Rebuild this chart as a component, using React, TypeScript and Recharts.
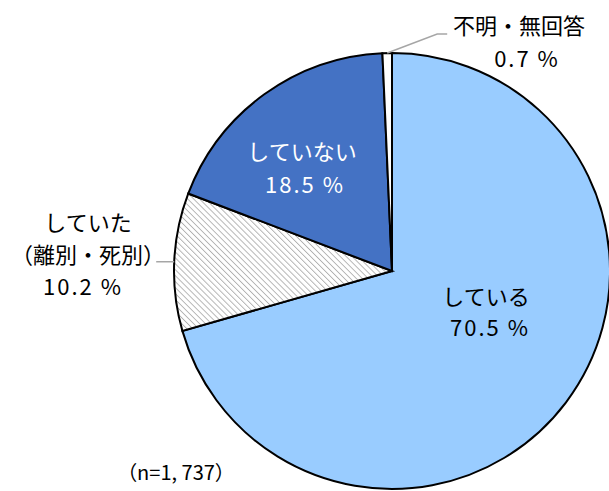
import React from "react";
import { PieChart, Pie, Cell } from "recharts";

const categories = ["している", "していた（離別・死別）", "していない", "不明・無回答"];
const values = [70.5, 10.2, 18.5, 0.7];
const labelLines: string[][] = [
  ["している", "70.5 %"],
  ["していた", "（離別・死別）", "10.2 %"],
  ["していない", "18.5 %"],
  ["不明・無回答", "0.7 %"],
];
const sampleLabel = "（n=1, 737）";

const data = categories.map((name, i) => ({ name, value: values[i] }));

const fills = ["#99CCFF", "url(#hatch)", "#4472C4", "#FFFFFF"];
const textColors = ["#000", "#000", "#fff", "#000"];
// label offsets relative to pie center (layout only)
const labelOffsets: [number, number][][] = [
  [[94, 24], [98, 55]],
  [[-304, -50], [-304, -18], [-309, 14]],
  [[-90, -121], [-87, -88]],
  [[127, -247], [135, -214]],
];

const FONT = "'Noto Sans CJK JP', 'Noto Sans', sans-serif";
const RAD = Math.PI / 180;

const renderLabel = (props: any) => {
  const { cx, cy, midAngle, outerRadius, index } = props;
  const ex = cx + outerRadius * Math.cos(-midAngle * RAD);
  const ey = cy + outerRadius * Math.sin(-midAngle * RAD);
  let leader: React.ReactNode = null;
  if (index === 3) {
    leader = (
      <polyline
        points={`${ex},${ey} ${ex + 50},${ey - 19} ${ex + 60},${ey - 19}`}
        fill="none"
        stroke="#A6A6A6"
        strokeWidth={1.5}
      />
    );
  } else if (index === 1) {
    leader = (
      <polyline
        points={`${ex},${ey} ${ex - 18},${ey}`}
        fill="none"
        stroke="#A6A6A6"
        strokeWidth={1.5}
      />
    );
  }
  return (
    <g key={`lbl-${index}`}>
      {leader}
      {labelLines[index].map((t, j) => {
        const isPct = t.includes("%");
        return (
          <text
            key={j}
            x={cx + labelOffsets[index][j][0]}
            y={cy + labelOffsets[index][j][1]}
            textAnchor="middle"
            dominantBaseline="central"
            fill={textColors[index]}
            fontSize={22}
            fontFamily={FONT}
            letterSpacing={isPct ? 2 : 0}
            style={{ whiteSpace: "pre" }}
          >
            {t}
          </text>
        );
      })}
    </g>
  );
};

export default function App() {
  return (
    <div style={{ position: "absolute", left: 0, top: 0, width: 609, height: 491, background: "#fff" }}>
      <svg width={0} height={0} style={{ position: "absolute" }}>
        <defs>
          <pattern id="hatch" patternUnits="userSpaceOnUse" width={4.2} height={4.2} patternTransform="rotate(-45)">
            <rect width={4.2} height={4.2} fill="#fff" />
            <line x1={0} y1={0} x2={0} y2={4.2} stroke="#B0B0B0" strokeWidth={1.8} />
          </pattern>
        </defs>
      </svg>
      <PieChart width={609} height={491} margin={{ top: 0, right: 0, bottom: 0, left: 0 }}>
        <Pie
          data={data}
          dataKey="value"
          nameKey="name"
          cx={392}
          cy={271}
          outerRadius={218}
          innerRadius={0}
          startAngle={90}
          endAngle={-270}
          stroke="#000"
          strokeWidth={2}
          label={renderLabel}
          labelLine={false}
          isAnimationActive={false}
        >
          {data.map((d, i) => (
            <Cell key={d.name} fill={fills[i]} />
          ))}
        </Pie>
      </PieChart>
      <div
        style={{
          position: "absolute",
          left: 176,
          top: 471,
          transform: "translate(-50%, -50%)",
          fontFamily: FONT,
          fontSize: 20,
          whiteSpace: "nowrap",
          color: "#000",
        }}
      >
        {sampleLabel}
      </div>
    </div>
  );
}
